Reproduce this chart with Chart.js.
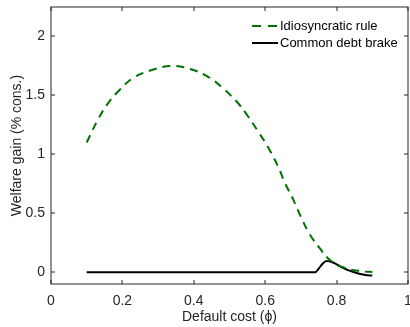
<!DOCTYPE html>
<html>
<head>
<meta charset="utf-8">
<script src="https://cdn.jsdelivr.net/npm/chart.js@4"></script>
<style>
  html, body { margin: 0; padding: 0; background: #fff; }
  #wrap { width: 410px; height: 327px; }
</style>
</head>
<body>
<div id="wrap"><canvas id="chart" width="410" height="327"></canvas></div>
<script>
// data
const idioX = [0.10, 0.13, 0.16, 0.19, 0.23, 0.28, 0.335, 0.39, 0.44, 0.48, 0.52, 0.55, 0.58,
  0.61, 0.635, 0.655, 0.68, 0.70, 0.725, 0.755, 0.775, 0.80, 0.82, 0.84, 0.86, 0.88, 0.90];
const idioY = [1.10, 1.286, 1.435, 1.54, 1.648, 1.713, 1.75, 1.724, 1.658, 1.565, 1.448, 1.33, 1.195,
  1.05, 0.903, 0.76, 0.607, 0.47, 0.32, 0.195, 0.12, 0.065, 0.04, 0.022, 0.012, 0.005, 0.002];

const brakeX = [0.10, 0.30, 0.50, 0.74, 0.75, 0.76, 0.772, 0.79, 0.81, 0.83, 0.85, 0.87, 0.885, 0.90];
const brakeY = [0, 0, 0, 0, 0.03, 0.07, 0.095, 0.082, 0.05, 0.02, 0.0, -0.018, -0.026, -0.028];

const xTicks = [0, 0.2, 0.4, 0.6, 0.8, 1];
const yTicks = [0, 0.5, 1, 1.5, 2];

const seriesNames = ['Idiosyncratic rule', 'Common debt brake'];
const seriesColors = ['#007000', '#000000'];

const FONT = 'Liberation Sans, Arial, Helvetica, sans-serif';
const TEXT = '#262626';
const AXIS = '#262626';

const toPoints = (xs, ys) => xs.map((x, i) => ({ x: x, y: ys[i] }));

// box around the plot with inward ticks on all four sides (matlab look)
const boxPlugin = {
  id: 'box',
  afterDraw(chart) {
    const { ctx, chartArea: a, scales } = chart;
    ctx.save();
    ctx.strokeStyle = AXIS;
    ctx.lineWidth = 1;
    ctx.strokeRect(a.left, a.top, a.right - a.left, a.bottom - a.top);
    const len = 4;
    ctx.beginPath();
    xTicks.forEach(v => {
      const px = Math.round(scales.x.getPixelForValue(v));
      ctx.moveTo(px, a.bottom); ctx.lineTo(px, a.bottom - len);
      ctx.moveTo(px, a.top); ctx.lineTo(px, a.top + len);
    });
    yTicks.forEach(v => {
      const py = Math.round(scales.y.getPixelForValue(v));
      ctx.moveTo(a.left, py); ctx.lineTo(a.left + len, py);
      ctx.moveTo(a.right, py); ctx.lineTo(a.right - len, py);
    });
    ctx.stroke();

    // legend, top right inside the box
    const lx = 252, ly = [26, 43];
    ctx.font = '13px ' + FONT;
    ctx.textBaseline = 'middle';
    ctx.fillStyle = '#000';
    seriesNames.forEach((name, i) => {
      ctx.beginPath();
      ctx.strokeStyle = seriesColors[i];
      ctx.lineWidth = 2;
      ctx.setLineDash(i === 0 ? [9, 7] : []);
      ctx.moveTo(lx, ly[i]); ctx.lineTo(lx + 26, ly[i]);
      ctx.stroke();
      ctx.setLineDash([]);
      ctx.fillText(name, lx + 28, ly[i]);
    });
    ctx.restore();
  }
};

new Chart(document.getElementById('chart'), {
  type: 'line',
  data: {
    datasets: [
      {
        label: seriesNames[0],
        data: toPoints(idioX, idioY),
        borderColor: seriesColors[0],
        borderWidth: 2,
        borderDash: [8, 6],
        pointRadius: 0,
        tension: 0.4,
        fill: false
      },
      {
        label: seriesNames[1],
        data: toPoints(brakeX, brakeY),
        borderColor: seriesColors[1],
        borderWidth: 2,
        pointRadius: 0,
        cubicInterpolationMode: 'monotone',
        fill: false
      }
    ]
  },
  options: {
    responsive: false,
    animation: false,
    layout: { padding: { top: 7, right: 2, left: 0, bottom: 0 } },
    plugins: {
      legend: { display: false },
      tooltip: { enabled: false }
    },
    scales: {
      x: {
        type: 'linear',
        min: 0,
        max: 1,
        grid: { display: false, drawTicks: false },
        border: { display: false },
        afterBuildTicks: s => { s.ticks = xTicks.map(v => ({ value: v })); },
        afterFit: s => { s.height = 43; s.paddingLeft = 0; s.paddingRight = 0; },
        ticks: {
          color: TEXT,
          font: { family: FONT, size: 14 },
          padding: 9,
          maxRotation: 0,
          callback: v => String(v)
        },
        title: {
          display: true,
          text: 'Default cost (ϕ)',
          color: TEXT,
          font: { family: FONT, size: 14 },
          padding: { top: 0, bottom: 1 }
        }
      },
      y: {
        type: 'linear',
        min: -0.1,
        max: 2.25,
        grid: { display: false, drawTicks: false },
        border: { display: false },
        afterBuildTicks: s => { s.ticks = yTicks.map(v => ({ value: v })); },
        afterFit: s => { s.width = 51; s.paddingTop = 0; s.paddingBottom = 0; },
        ticks: {
          color: TEXT,
          font: { family: FONT, size: 14 },
          padding: 6,
          callback: v => String(v)
        },
        title: {
          display: true,
          text: 'Welfare gain (% cons.)',
          color: TEXT,
          font: { family: FONT, size: 14 },
          padding: { top: 9, bottom: 0 }
        }
      }
    }
  },
  plugins: [boxPlugin]
});
</script>
</body>
</html>
